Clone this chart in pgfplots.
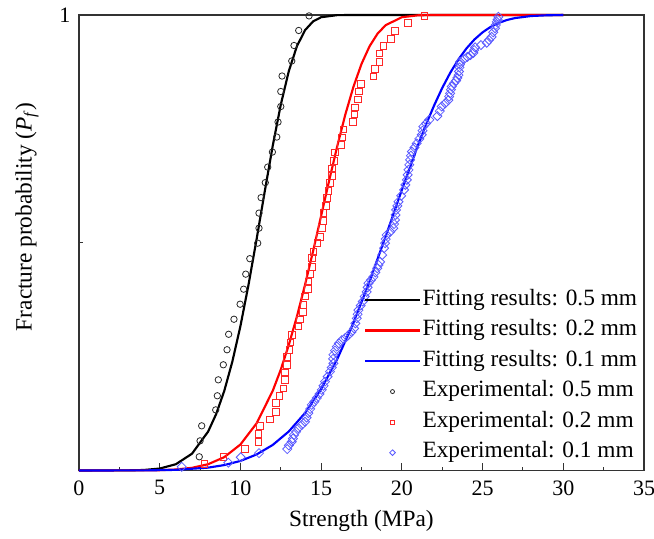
\documentclass[border=0pt]{standalone}
\usepackage{fontspec}
\setmainfont{Liberation Serif}
\usepackage{pgfplots}
\pgfplotsset{compat=1.18}
\definecolor{expblack}{RGB}{40,40,40}
\definecolor{expred}{RGB}{255,40,40}
\definecolor{expblue}{RGB}{90,90,255}
\pgfplotsset{explegend/.style={legend image code/.code={%
    \pgfpathrectangle{\pgfpoint{0pt}{-2pt}}{\pgfpoint{41pt}{4pt}}\pgfusepath{use as bounding box}%
    \begin{pgfinterruptboundingbox}%
    \draw[##1] plot coordinates {(20.5pt,0pt)};%
    \end{pgfinterruptboundingbox}}}}
\begin{document}
\begin{tikzpicture}
\begin{axis}[
  scale only axis, width=423.75pt, height=341.6pt,
  xmin=0, xmax=35, ymin=0, ymax=1,
  xtick={0,5,...,35}, minor x tick num=1,
  ytick={0,0.5,1}, yticklabels={,,1},
  tick align=inside, xtick pos=bottom, ytick pos=left,
  major tick length=5.5pt, minor tick length=2.6pt,
  ytick style={/pgfplots/major tick length=3pt},
  axis line style={black!80, line width=0.9pt},
  tick style={black!80, line width=0.8pt},
  /pgf/number format/assume math mode=true,
  ticklabel style={font=\fontsize{16.5}{19}\selectfont},
  xticklabel style={yshift=-4pt},
  yticklabel style={xshift=-3pt},
  label style={font=\fontsize{17.5}{21}\selectfont},
  xlabel={Strength (MPa)},
  ylabel={Fracture probability (\textit{P}\textsubscript{\textit{f}})},
  xlabel style={at={(axis description cs:0.5,-0.111)}, anchor=center},
  ylabel style={at={(axis description cs:-0.092,0.557)}, anchor=center},
  clip=false,
  legend style={at={(1,0.41)}, anchor=north east, draw=none, fill=none,
    font=\fontsize{17.5}{21}\selectfont, legend cell align=left,
    nodes={inner sep=2pt, text height=12pt, text depth=4pt}, row sep=2.9pt},
  legend image code/.code={%
    \pgfpathrectangle{\pgfpoint{0pt}{-2pt}}{\pgfpoint{41pt}{4pt}}\pgfusepath{use as bounding box}%
    \begin{pgfinterruptboundingbox}%
    \draw[#1] plot coordinates {(0pt,0pt) (41pt,0pt)};%
    \end{pgfinterruptboundingbox}},
]
% Fitting curves
\addplot[black, line width=1.6pt] coordinates {
(0,0) (3,0.0002) (4,0.0010) (5,0.0042) (6,0.0137) (7,0.0368) (8,0.0854) (8.5,0.1241)
(9,0.1748) (9.5,0.2391) (10,0.3169) (10.5,0.4075) (11,0.5074) (11.5,0.6113) (12,0.7125)
(12.5,0.8031) (13,0.8772) (13.5,0.9315) (14,0.9665) (14.5,0.9859) (15,0.9951) (16,0.9997)
(17,1) (30,1)};
\addlegendentry{Fitting results: 0.5 mm}
\addplot[red, line width=1.6pt] coordinates {
(0,0) (4,0.0001) (5,0.0006) (6,0.0021) (7,0.0058) (8,0.0137) (9,0.0292) (10,0.0570)
(11,0.1034) (12,0.1747) (12.5,0.2214) (13,0.2760) (13.5,0.3382) (14,0.4073) (14.5,0.4814)
(15,0.5592) (15.5,0.6369) (16,0.7123) (16.5,0.7817) (17,0.8423) (17.5,0.8925) (18,0.9314)
(18.5,0.9593) (19,0.9777) (20,0.9951) (21,0.9993) (22,1) (30,1)};
\addlegendentry{Fitting results: 0.2 mm}
\addplot[blue, line width=1.6pt] coordinates {
(0,0) (4,0.0001) (6,0.0013) (8,0.0062) (9,0.0118) (10,0.0209) (11,0.0351) (12,0.0560)
(13,0.0857) (14,0.1260) (15,0.1787) (16,0.2447) (17,0.3241) (18,0.4153) (19,0.5143)
(20,0.6161) (21,0.7142) (21.5,0.7597) (22,0.8015) (22.5,0.8397) (23,0.8733) (23.5,0.9022)
(24,0.9265) (24.5,0.9463) (25,0.9619) (25.5,0.9739) (26,0.9826) (26.5,0.9889) (27,0.9932)
(28,0.9977) (29,0.9994) (30,0.9999)};
\addlegendentry{Fitting results: 0.1 mm}
% Experimental
\addplot[draw=none, mark=o, mark size=2.4pt, mark options={expblack, line width=0.6pt},
  explegend, legend image post style={mark size=1.5pt}] coordinates {
(7.45,0.030) (7.50,0.065) (7.60,0.098) (8.47,0.133) (8.57,0.164) (8.63,0.199) (8.94,0.232)
(9.17,0.265) (9.27,0.299) (9.60,0.332) (9.98,0.365) (10.20,0.398) (10.33,0.431) (10.58,0.465)
(11.07,0.499) (11.15,0.532) (11.15,0.565) (11.28,0.599) (11.54,0.632) (11.69,0.666)
(11.98,0.699) (12.25,0.732) (12.33,0.765) (12.50,0.799) (12.50,0.832) (12.58,0.866)
(13.18,0.899) (13.32,0.933) (13.61,0.966) (14.25,0.998)};
\addlegendentry{Experimental: 0.5 mm}
\addplot[draw=none, mark=square, mark size=2.5pt, mark options={expred, line width=0.6pt},
  explegend, legend image post style={mark size=1.6pt}] coordinates {
(7.77,0.014) (8.94,0.030) (10.28,0.047) (11.11,0.063) (11.11,0.080) (11.21,0.098)
(11.83,0.112) (12.20,0.129) (12.20,0.148) (12.41,0.164) (12.66,0.180) (12.76,0.199)
(12.76,0.215) (12.87,0.232) (12.87,0.250) (13.03,0.265) (13.10,0.281) (13.18,0.297)
(13.59,0.316) (13.69,0.332) (13.85,0.348) (13.90,0.363) (14.00,0.382) (14.17,0.398)
(14.21,0.415) (14.31,0.431) (14.42,0.447) (14.42,0.466) (14.52,0.480) (14.77,0.499)
(14.93,0.513) (15.04,0.532) (15.14,0.548) (15.14,0.565) (15.30,0.581) (15.35,0.598)
(15.45,0.614) (15.55,0.631) (15.65,0.647) (15.65,0.663) (15.80,0.680) (15.86,0.698)
(16.23,0.715) (16.28,0.731) (16.38,0.749) (16.96,0.765) (17.06,0.782) (17.11,0.797)
(17.27,0.815) (17.35,0.832) (17.47,0.849) (18.23,0.865) (18.34,0.881) (18.61,0.897)
(18.61,0.916) (18.86,0.932) (19.33,0.947) (19.58,0.965) (20.37,0.982) (21.40,0.998)};
\addlegendentry{Experimental: 0.2 mm}
\addplot[draw=none, mark=square, mark size=2.4pt, mark options={expblue, line width=0.6pt, rotate=45},
  explegend, legend image post style={mark size=1.5pt}] coordinates {
(6.36,0.008) (9.25,0.017) (10.02,0.029) (11.15,0.038) (12.90,0.047) (13.00,0.055)
(13.18,0.063) (13.25,0.070) (13.32,0.078) (13.45,0.085) (13.59,0.093) (13.80,0.100)
(14.00,0.107) (14.10,0.116) (14.21,0.126) (14.32,0.135) (14.42,0.144) (14.58,0.151)
(14.73,0.159) (14.90,0.168) (15.04,0.177) (15.15,0.186) (15.24,0.195) (15.40,0.206)
(15.55,0.217) (15.66,0.226) (15.76,0.235) (15.74,0.245) (15.76,0.254) (15.86,0.263)
(15.97,0.272) (16.10,0.279) (16.28,0.286) (16.50,0.291) (16.69,0.297) (16.88,0.304)
(17.04,0.312) (17.12,0.323) (17.21,0.334) (17.26,0.343) (17.31,0.352) (17.45,0.362)
(17.58,0.371) (17.70,0.382) (17.82,0.392) (17.88,0.402) (17.93,0.411) (18.08,0.418)
(18.24,0.425) (18.36,0.435) (18.48,0.444) (18.56,0.451) (18.65,0.458) (18.78,0.473)
(18.90,0.488) (18.96,0.499) (19.00,0.508) (19.06,0.517) (19.28,0.524) (19.47,0.532)
(19.52,0.541) (19.58,0.550) (19.61,0.561) (19.64,0.572) (19.72,0.581) (19.79,0.590)
(19.96,0.603) (20.14,0.616) (20.22,0.627) (20.31,0.638) (20.36,0.649) (20.41,0.660)
(20.46,0.671) (20.51,0.682) (20.56,0.691) (20.62,0.700) (20.78,0.709) (20.92,0.718)
(21.08,0.728) (21.23,0.737) (21.28,0.746) (21.33,0.755) (21.50,0.762) (21.70,0.770)
(22.20,0.778) (22.35,0.789) (22.47,0.799) (22.68,0.806) (22.88,0.813) (22.93,0.821)
(22.99,0.828) (23.04,0.836) (23.09,0.843) (23.22,0.850) (23.36,0.856) (23.44,0.862)
(23.51,0.868) (23.54,0.876) (23.57,0.885) (23.59,0.891) (23.61,0.897) (23.85,0.903)
(24.06,0.908) (24.25,0.912) (24.43,0.917) (24.48,0.923) (24.54,0.929) (24.90,0.934)
(25.26,0.939) (25.40,0.945) (25.56,0.952) (25.66,0.962) (25.77,0.971) (25.82,0.978)
(25.88,0.985) (25.93,0.990) (25.98,0.996)};
\addlegendentry{Experimental: 0.1 mm}
\end{axis}
\pgfresetboundingbox
\path[use as bounding box] ([xshift=-59.25pt,yshift=-51.375pt]current axis.south west) rectangle ([xshift=7.5pt,yshift=11.25pt]current axis.north east);
\end{tikzpicture}
\end{document}
